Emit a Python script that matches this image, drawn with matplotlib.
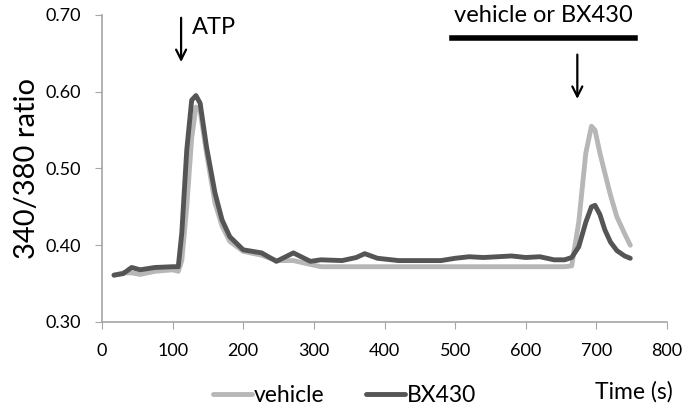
import matplotlib.pyplot as plt

plt.rcParams['font.family'] = ['Lato', 'DejaVu Sans']

# time points (s)
t = [17, 30, 42, 54, 75, 100, 108, 113, 120, 127, 133, 139, 148, 160, 170, 181,
     200, 226, 247, 271, 295, 310, 340, 360, 372, 390, 420, 480, 500, 520, 540,
     560, 580, 600, 620, 640, 655, 665, 675, 685, 693, 698, 705, 712, 720, 729,
     740, 748]

vehicle = [0.361, 0.364, 0.364, 0.362, 0.366, 0.368, 0.366, 0.380, 0.450, 0.540,
           0.580, 0.575, 0.520, 0.455, 0.425, 0.405, 0.392, 0.387, 0.380, 0.380,
           0.375, 0.372, 0.372, 0.372, 0.372, 0.372, 0.372, 0.372, 0.372, 0.372,
           0.372, 0.372, 0.372, 0.372, 0.372, 0.372, 0.372, 0.373, 0.430, 0.520,
           0.555, 0.550, 0.520, 0.494, 0.465, 0.437, 0.415, 0.400]

bx430 = [0.361, 0.363, 0.371, 0.368, 0.371, 0.372, 0.372, 0.416, 0.524, 0.589,
         0.595, 0.585, 0.528, 0.468, 0.433, 0.411, 0.394, 0.390, 0.379, 0.390,
         0.379, 0.381, 0.380, 0.384, 0.389, 0.383, 0.380, 0.380, 0.383, 0.385,
         0.384, 0.385, 0.386, 0.384, 0.385, 0.381, 0.381, 0.384, 0.398, 0.430,
         0.450, 0.452, 0.440, 0.420, 0.404, 0.393, 0.386, 0.383]

yticks = [0.30, 0.40, 0.50, 0.60, 0.70]

fig = plt.figure(figsize=(6.91, 4.05), dpi=100)
ax = fig.add_axes([0.1476, 0.205, 0.8177, 0.758])

ax.plot(t, vehicle, color='#b7b7b7', lw=3.5, solid_capstyle='round', label='vehicle')
ax.plot(t, bx430, color='#555555', lw=3.5, solid_capstyle='round', label='BX430')

ax.set_xlim(0, 800)
ax.set_ylim(0.30, 0.70)
ax.set_xticks(range(0, 801, 100))
ax.set_yticks(yticks)
ax.set_yticklabels(['%.2f' % v for v in yticks])
ax.tick_params(labelsize=13, length=5, color='#a6a6a6', direction='out')
ax.tick_params(axis='x', pad=10)
ax.tick_params(axis='y', pad=10)
for s in ['top', 'right']:
    ax.spines[s].set_visible(False)
for s in ['left', 'bottom']:
    ax.spines[s].set_color('#a6a6a6')
    ax.spines[s].set_linewidth(1.2)

ax.set_ylabel('340/380 ratio', fontsize=21, labelpad=4)

# annotations
ax.annotate('', xy=(112, 0.635), xytext=(112, 0.70),
            arrowprops=dict(arrowstyle='->', lw=1.6, color='black', mutation_scale=18),
            annotation_clip=False)
ax.text(127, 0.684, 'ATP', fontsize=17, va='center', ha='left')

ax.plot([496, 754], [0.670, 0.670], color='black', lw=4, clip_on=False)
ax.text(625, 0.699, 'vehicle or BX430', fontsize=17, ha='center', va='center')
ax.annotate('', xy=(673, 0.587), xytext=(673, 0.652),
            arrowprops=dict(arrowstyle='->', lw=1.6, color='black', mutation_scale=18),
            annotation_clip=False)

leg = ax.legend(loc='center left', bbox_to_anchor=(0.196, -0.24), ncol=2, frameon=False,
                fontsize=16.5, handlelength=1.7, handletextpad=0.1, columnspacing=1.8,
                borderaxespad=0, borderpad=0)
ax.text(1.01, -0.228, 'Time (s)', transform=ax.transAxes, fontsize=16.5,
        ha='right', va='center')

fig.savefig('out.png', dpi=100)
